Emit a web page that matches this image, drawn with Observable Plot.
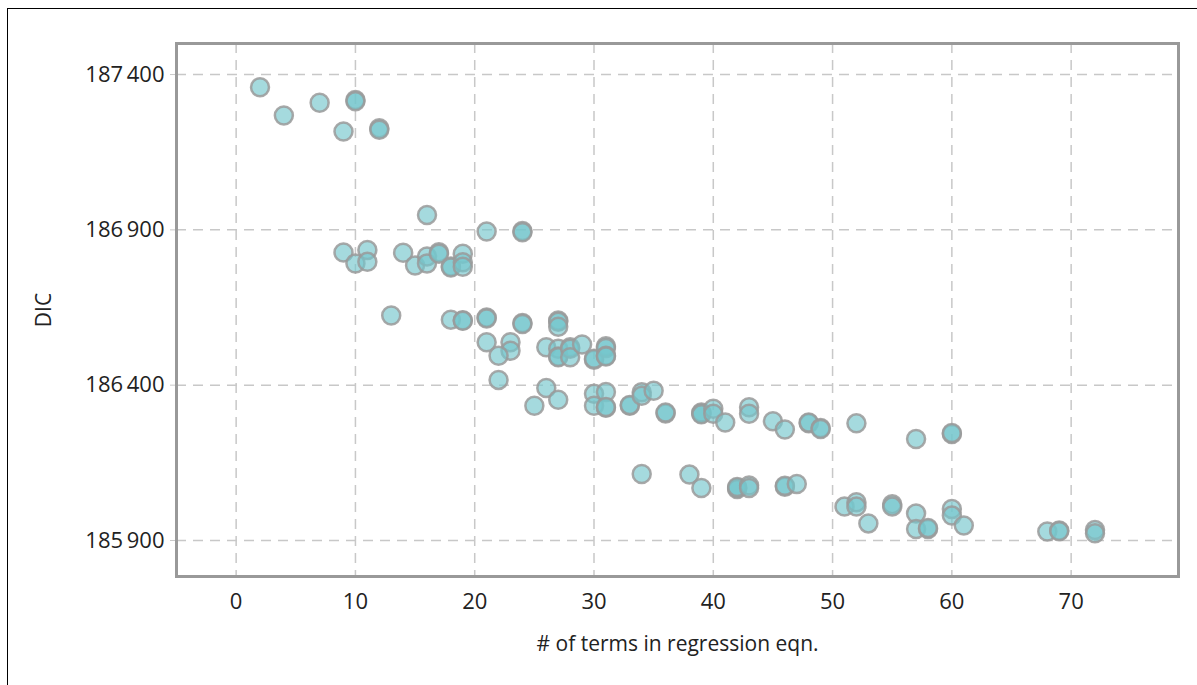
<!DOCTYPE html>
<html>
<head>
<meta charset="utf-8">
<script src="https://cdn.jsdelivr.net/npm/d3@7"></script>
<script src="https://cdn.jsdelivr.net/npm/@observablehq/plot@0.6"></script>
<style>
  html, body { margin: 0; padding: 0; background: #fff; }
  #wrap { position: relative; width: 1197px; height: 685px; overflow: hidden; }
  #border { position: absolute; left: 7px; top: 8px; width: 1300px; height: 800px; border-left: 1px solid #000; border-top: 1px solid #000; }
  #chart { position: absolute; left: 0; top: 0; }
</style>
</head>
<body>
<div id="wrap"><div id="border"></div><div id="chart"></div></div>
<script>
// # of terms in regression equation
const terms = [
  2, 4, 7, 10, 10, 9, 12, 12,
  16, 21, 24, 24,
  9, 11, 10, 11, 14, 15, 16, 16, 17, 17, 18, 18, 19, 19, 19,
  13, 18, 19, 19, 21, 21, 24, 24, 27, 27, 27,
  21, 23, 23, 22, 22, 26, 27, 27, 27, 28, 28, 28, 29, 30, 30, 31, 31, 31, 31,
  26, 25, 27, 30, 30, 31, 31, 31, 33, 33, 34, 34, 35, 36, 36, 39, 39, 39, 40, 40, 41,
  43, 43, 45, 46, 48, 48, 49, 49, 52, 57, 60, 60,
  34, 38, 39, 42, 42, 42, 43, 43, 46, 46, 47,
  51, 52, 52, 53, 55, 55, 57, 57, 58, 58, 60, 60, 61, 68, 69, 69, 72, 72
];
// DIC values
const dic = [
  187359, 187268, 187309, 187318, 187314, 187217, 187227, 187222,
  186948, 186895, 186896, 186892,
  186827, 186835, 186792, 186797, 186826, 186785, 186814, 186792, 186828, 186823, 186782, 186779, 186823, 186796, 186781,
  186624, 186611, 186609, 186607, 186618, 186615, 186600, 186597, 186608, 186604, 186588,
  186538, 186538, 186511, 186495, 186417, 186522, 186517, 186492, 186490, 186522, 186517, 186490, 186531, 186482, 186485, 186525, 186520, 186495, 186492,
  186391, 186334, 186353, 186372, 186334, 186378, 186327, 186330, 186334, 186336, 186377, 186366, 186382, 186309, 186312, 186309, 186312, 186306, 186324, 186308, 186280,
  186329, 186308, 186284, 186257, 186277, 186280, 186262, 186259, 186277, 186227, 186243, 186246,
  186114, 186112, 186069, 186069, 186066, 186072, 186077, 186069, 186073, 186076, 186082,
  186009, 186023, 186009, 185955, 186017, 186009, 185987, 185937, 185937, 185940, 186001, 185980, 185948, 185929, 185932, 185930, 185934, 185923
];
const xTicks = [0, 10, 20, 30, 40, 50, 60, 70];
const yTicks = [185900, 186400, 186900, 187400];

const data = terms.map((t, i) => ({terms: t, dic: dic[i]}));
const fmt = d3.formatLocale({decimal: ".", thousands: "\u2009", grouping: [3], currency: ["", ""]}).format(",");

const FONT = "'Open Sans', sans-serif";
const plot = Plot.plot({
  width: 1197,
  height: 685,
  marginLeft: 176,
  marginRight: 19,
  marginTop: 43,
  marginBottom: 109,
  style: {fontFamily: FONT, fontSize: "21px", color: "#222", background: "transparent"},
  x: {domain: [-5, 79]},
  y: {domain: [185784, 187500]},
  marks: [
    Plot.gridX(xTicks, {stroke: "#c8c8c8", strokeOpacity: 1, strokeWidth: 1.5, strokeDasharray: "10,7"}),
    Plot.gridY(yTicks, {stroke: "#c8c8c8", strokeOpacity: 1, strokeWidth: 1.5, strokeDasharray: "10,7"}),
    Plot.axisX(xTicks, {tickSize: 0, tickPadding: 17, fontSize: 22, label: null}),
    Plot.axisX({label: "# of terms in regression eqn.", labelAnchor: "center", labelArrow: "none", labelOffset: 74, fontSize: 21, ticks: [], tickSize: 0}),
    Plot.axisY(yTicks, {tickSize: 6, stroke: "#c8c8c8", tickPadding: 6, fontSize: 22, tickFormat: fmt, label: null}),
    Plot.axisY({label: "DIC", labelAnchor: "center", labelArrow: "none", labelOffset: 140, fontSize: 21, ticks: [], tickSize: 0}),
    Plot.dot(data, {x: "terms", y: "dic", r: 9, fill: "#74c6cc", fillOpacity: 0.65, stroke: "#9a9a9a", strokeOpacity: 0.85, strokeWidth: 2.5}),
    Plot.frame({stroke: "#999", strokeWidth: 3})
  ]
});
document.getElementById("chart").appendChild(plot);
</script>
</body>
</html>
